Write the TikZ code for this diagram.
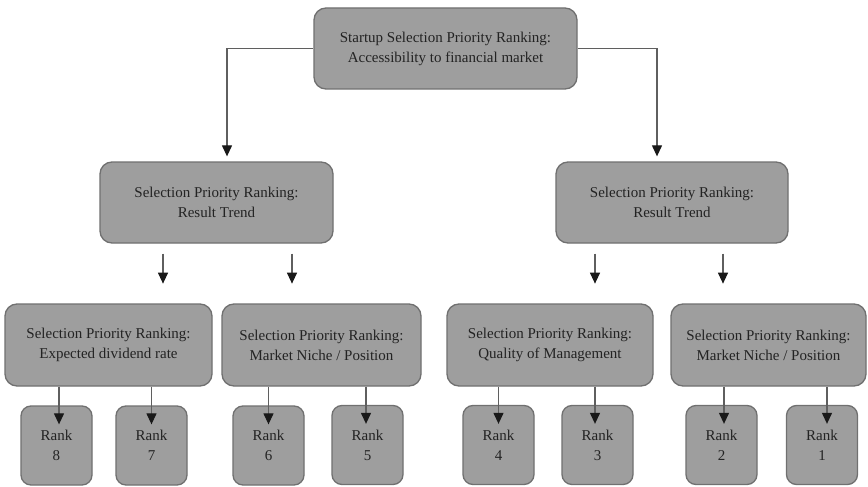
\documentclass[tikz,border=0pt]{standalone}
\usepackage{fontspec}
\setmainfont{Liberation Serif}
\usetikzlibrary{arrows.meta,calc}
\definecolor{boxfill}{RGB}{158,158,158}
\definecolor{boxdraw}{RGB}{112,112,112}
\definecolor{txt}{RGB}{35,35,35}
\definecolor{conn}{RGB}{95,95,95}
\definecolor{tipc}{RGB}{25,25,25}
\begin{document}
\begin{tikzpicture}[x=1pt,y=-1pt,
  box/.style={draw=boxdraw, line width=1.3pt, fill=boxfill, rounded corners=12pt, inner sep=0pt, align=center, text=txt, font=\fontsize{15}{20}\selectfont},
  rankbox/.style={box, rounded corners=10pt, minimum width=71pt, minimum height=79pt},
  arr/.style={draw=conn, line width=1.2pt, -{Triangle[width=10pt,length=11pt,color=tipc]}}
]
\useasboundingbox (0,0) rectangle (868,487);
\fill[white] (0,0) rectangle (868,487);

\node[box, minimum width=263pt, minimum height=81pt] (top) at (445.5,48.5) {Startup Selection Priority Ranking:\\Accessibility to financial market};

\node[box, minimum width=233pt, minimum height=81pt] (midL) at (216.5,202.5) {Selection Priority Ranking:\\Result Trend};
\node[box, minimum width=232pt, minimum height=81pt] (midR) at (672,202.5) {Selection Priority Ranking:\\Result Trend};

\node[box, minimum width=207pt, minimum height=82pt] (A) at (108.5,345) {Selection Priority Ranking:\\Expected dividend rate};
\node[box, minimum width=199pt, minimum height=82pt] (B) at (321.5,345) {Selection Priority Ranking:\\Market Niche / Position};
\node[box, minimum width=206pt, minimum height=82pt] (C) at (550,345) {Selection Priority Ranking:\\Quality of Management};
\node[box, minimum width=195pt, minimum height=82pt] (D) at (768.5,345) {Selection Priority Ranking:\\Market Niche / Position};

\node[rankbox] (r8) at (56.5,445.5) {Rank\\8};
\node[rankbox] (r7) at (151.5,445.5) {Rank\\7};
\node[rankbox] (r6) at (268.5,445.5) {Rank\\6};
\node[rankbox] (r5) at (367.5,445) {Rank\\5};
\node[rankbox] (r4) at (498.5,445) {Rank\\4};
\node[rankbox] (r3) at (597.5,445) {Rank\\3};
\node[rankbox] (r2) at (721.5,445) {Rank\\2};
\node[rankbox] (r1) at (822,445) {Rank\\1};

% top level connectors
\draw[arr] (top.west) -| ($(midL.north)+(10.5,-5)$);
\draw[arr] (top.east) -| ($(midR.north)+(-15,-5)$);

% floating arrows below the middle boxes
\draw[arr] ($(midL.south)+(-53.5,10)$) -- ($(midL.south)+(-53.5,40)$);
\draw[arr] ($(midL.south)+(75.5,10)$) -- ($(midL.south)+(75.5,40)$);
\draw[arr] ($(midR.south)+(-77,10)$) -- ($(midR.south)+(-77,40)$);
\draw[arr] ($(midR.south)+(51,10)$) -- ($(midR.south)+(51,40)$);

% arrows into rank boxes
\draw[arr] ($(A.south -| r8.north)+(2.5,0)$) -- ($(r8.north)+(2.5,19)$);
\draw[arr] (A.south -| r7.north) -- ($(r7.north)+(0,19)$);
\draw[arr] (B.south -| r6.north) -- ($(r6.north)+(0,19)$);
\draw[arr] ($(B.south -| r5.north)+(-1.5,0)$) -- ($(r5.north)+(-1.5,19)$);
\draw[arr] (C.south -| r4.north) -- ($(r4.north)+(0,19)$);
\draw[arr] ($(C.south -| r3.north)+(-2.5,0)$) -- ($(r3.north)+(-2.5,19)$);
\draw[arr] ($(D.south -| r2.north)+(2.5,0)$) -- ($(r2.north)+(2.5,19)$);
\draw[arr] ($(D.south -| r1.north)+(5,0)$) -- ($(r1.north)+(5,19)$);
\end{tikzpicture}
\end{document}
